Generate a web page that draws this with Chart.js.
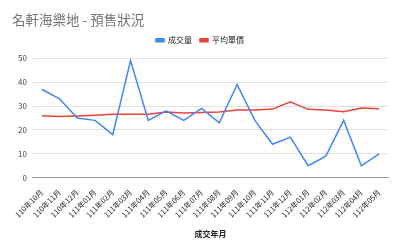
<!DOCTYPE html>
<html lang="zh-Hant">
<head>
<meta charset="UTF-8">
<title>名軒海樂地 - 預售狀況</title>
<script src="https://cdn.jsdelivr.net/npm/chart.js"></script>
<style>
    body { margin: 0; background: #fff; }
    .wrap { width: 400px; height: 247px; }
</style>
</head>
<body>
<div class="wrap"><canvas id="grafico"></canvas></div>
<script>
    // 資料
    const meses = ['110年10月', '110年11月', '110年12月', '111年01月', '111年02月', '111年03月', '111年04月',
        '111年05月', '111年06月', '111年07月', '111年08月', '111年09月', '111年10月', '111年11月',
        '111年12月', '112年01月', '112年02月', '112年03月', '112年04月', '112年05月'];
    const volumen = [37, 33, 25, 24, 18, 49, 24, 28, 24, 29, 23, 39, 24, 14, 17, 5, 9, 24, 5, 10];
    const precioMedio = [25.9, 25.6, 25.8, 26.1, 26.5, 26.5, 26.6, 27.5, 27.1, 27.3, 27.5, 28.3, 28.3, 28.7,
        31.8, 28.6, 28.3, 27.6, 29.2, 28.9];
    const yTicks = [0, 10, 20, 30, 40, 50];

    const fuente = "'Noto Sans CJK TC', 'Noto Sans', sans-serif";
    Chart.defaults.font.family = fuente;

    // espaço extra abaixo da legenda
    const margemLegenda = {
        id: 'margemLegenda',
        beforeInit(chart) {
            const fitOriginal = chart.legend.fit;
            chart.legend.fit = function () {
                fitOriginal.bind(chart.legend)();
                this.height += 4;
            };
        }
    };

    const ctx = document.getElementById('grafico').getContext('2d');
    const grafico = new Chart(ctx, {
        type: 'line',
        data: {
            labels: meses,
            datasets: [{
                label: '成交量',
                data: volumen,
                borderColor: '#4285F4',
                backgroundColor: '#4285F4',
                borderWidth: 1.5,
                pointRadius: 0,
                tension: 0
            }, {
                label: '平均單價',
                data: precioMedio,
                borderColor: '#EA4335',
                backgroundColor: '#EA4335',
                borderWidth: 1.5,
                pointRadius: 0,
                tension: 0
            }]
        },
        options: {
            responsive: true,
            maintainAspectRatio: false,
            animation: false,
            layout: { padding: { left: 12, right: 12, top: 10, bottom: 4 } },
            plugins: {
                title: {
                    display: true,
                    text: '名軒海樂地 - 預售狀況',
                    align: 'start',
                    color: '#757575',
                    font: { size: 13.5, weight: 'normal' },
                    padding: { top: 2, bottom: 0 }
                },
                legend: {
                    display: true,
                    labels: {
                        color: '#222',
                        font: { size: 8 },
                        boxWidth: 8,
                        boxHeight: 3,
                        padding: 8
                    }
                },
                tooltip: { enabled: false }
            },
            scales: {
                x: {
                    offset: true,
                    grid: { display: false },
                    border: { display: true, color: '#999', width: 1 },
                    ticks: {
                        color: '#222',
                        font: { size: 7.5 },
                        maxRotation: 45,
                        minRotation: 45,
                        autoSkip: false,
                        padding: 2
                    },
                    title: {
                        display: true,
                        text: '成交年月',
                        color: '#222',
                        font: { size: 8, weight: 'bold' },
                        padding: { top: 8 }
                    }
                },
                y: {
                    min: 0,
                    max: 50,
                    afterBuildTicks: function (axis) {
                        axis.ticks = yTicks.map(v => ({ value: v }));
                    },
                    grid: { color: '#e0e0e0', drawTicks: false },
                    border: { display: false },
                    ticks: {
                        color: '#444',
                        font: { size: 8 },
                        padding: 6
                    }
                }
            }
        },
        plugins: [margemLegenda]
    });
</script>
</body>
</html>
